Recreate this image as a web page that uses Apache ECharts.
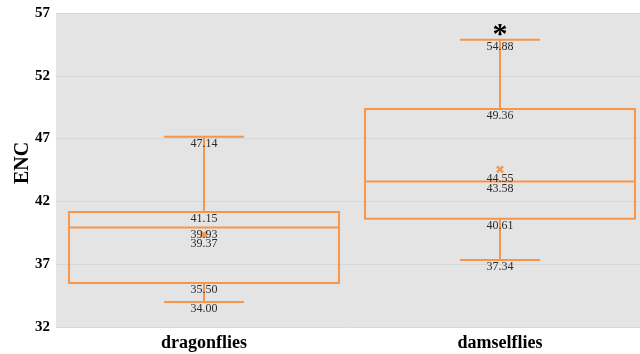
<!DOCTYPE html>
<html>
<head>
<meta charset="utf-8">
<script src="https://cdn.jsdelivr.net/npm/echarts@6/dist/echarts.min.js"></script>
<style>
  html, body { margin: 0; padding: 0; background: #ffffff; }
  #chart { width: 640px; height: 354px; }
</style>
</head>
<body>
<div id="chart"></div>
<script>
// ENC box plot: dragonflies vs damselflies
const categories = ['dragonflies', 'damselflies'];
const minVals    = [34.00, 37.34];
const q1Vals     = [35.50, 40.61];
const medianVals = [39.93, 43.58];
const q3Vals     = [41.15, 49.36];
const maxVals    = [47.14, 54.88];
const meanVals   = [39.37, 44.55];
const markers    = ['', '*'];
const yTicks     = [32, 37, 42, 47, 52, 57];

const ORANGE = '#F7964A';
const LABEL_FONT = '12px "Liberation Serif", "Times New Roman", serif';

const boxData = categories.map((c, i) => [
  i, minVals[i], q1Vals[i], medianVals[i], q3Vals[i], maxVals[i], meanVals[i]
]);

function fmt(v) { return v.toFixed(2); }

function renderBox(params, api) {
  const i = api.value(0);
  const vals = [1, 2, 3, 4, 5, 6].map(d => api.value(d));
  const [vMin, vQ1, vMed, vQ3, vMax, vMean] = vals;
  const band = api.size([1, 0])[0];
  const cx = api.coord([i, vMed])[0];
  const y = v => api.coord([i, v])[1];
  const halfBox = band * 0.456;
  const halfCap = band * 0.135;
  const line = (x1, y1, x2, y2, w) => ({
    type: 'line',
    shape: { x1, y1, x2, y2 },
    style: { stroke: ORANGE, lineWidth: w || 2 }
  });
  const label = (text, yy) => ({
    type: 'text',
    style: {
      text, x: cx, y: yy, fill: '#2b2b2b', font: LABEL_FONT,
      align: 'center', verticalAlign: 'middle'
    }
  });
  const yMin = y(vMin), yQ1 = y(vQ1), yMed = y(vMed), yQ3 = y(vQ3), yMax = y(vMax), yMean = y(vMean);
  const m = 3;
  const children = [
    // whiskers
    line(cx, yMax, cx, yQ3),
    line(cx, yQ1, cx, yMin),
    line(cx - halfCap, yMax, cx + halfCap, yMax),
    line(cx - halfCap, yMin, cx + halfCap, yMin),
    // box
    {
      type: 'rect',
      shape: { x: cx - halfBox, y: yQ3, width: halfBox * 2, height: yQ1 - yQ3 },
      style: { fill: 'none', stroke: ORANGE, lineWidth: 2 }
    },
    line(cx - halfBox, yMed, cx + halfBox, yMed),
    // mean marker
    line(cx - m, yMean - m, cx + m, yMean + m, 2.5),
    line(cx - m, yMean + m, cx + m, yMean - m, 2.5),
    // value labels
    label(fmt(vMax), yMax + 7),
    label(fmt(vQ3), yQ3 + 7),
    label(fmt(vMed), yMed + 7),
    label(fmt(vMean), yMean + 9),
    label(fmt(vQ1), yQ1 + 7),
    label(fmt(vMin), yMin + 7)
  ];
  const mk = markers[i];
  if (mk) {
    children.push({
      type: 'text',
      style: {
        text: mk, x: cx, y: yMax - 4, fill: '#000000',
        font: 'bold 30px "Liberation Serif", "Times New Roman", serif',
        align: 'center', verticalAlign: 'middle'
      }
    });
  }
  return { type: 'group', children };
}

const chart = echarts.init(document.getElementById('chart'), null, { renderer: 'canvas' });
chart.setOption({
  animation: false,
  backgroundColor: '#ffffff',
  grid: {
    left: 56, right: -8, top: 13, bottom: 27,
    outerBoundsMode: 'none',
    containLabel: false,
    show: true, backgroundColor: '#e4e4e4', borderWidth: 0
  },
  xAxis: {
    type: 'category',
    data: categories,
    axisLine: { show: false },
    axisTick: { show: false },
    axisLabel: {
      color: '#000000', fontSize: 18, fontWeight: 'bold',
      fontFamily: '"Liberation Serif", "Times New Roman", serif', margin: 7
    }
  },
  yAxis: {
    type: 'value',
    name: 'ENC',
    nameLocation: 'middle',
    nameGap: 23,
    nameMoveOverlap: false,
    nameTextStyle: {
      color: '#000000', fontSize: 20, fontWeight: 'bold',
      fontFamily: '"Liberation Serif", "Times New Roman", serif',
      padding: [0, 0, 0, 14]
    },
    min: yTicks[0],
    max: yTicks[yTicks.length - 1],
    interval: yTicks[1] - yTicks[0],
    axisLine: { show: false },
    axisTick: { show: false },
    splitLine: { show: true, lineStyle: { color: '#d7d7d7', width: 1 } },
    axisLabel: {
      color: '#000000', fontSize: 15, fontWeight: 'bold',
      fontFamily: '"Liberation Serif", "Times New Roman", serif', margin: 6
    }
  },
  series: [{
    type: 'custom',
    name: 'ENC',
    clip: false,
    renderItem: renderBox,
    encode: { x: 0, y: [1, 2, 3, 4, 5, 6] },
    data: boxData
  }]
});
</script>
</body>
</html>
